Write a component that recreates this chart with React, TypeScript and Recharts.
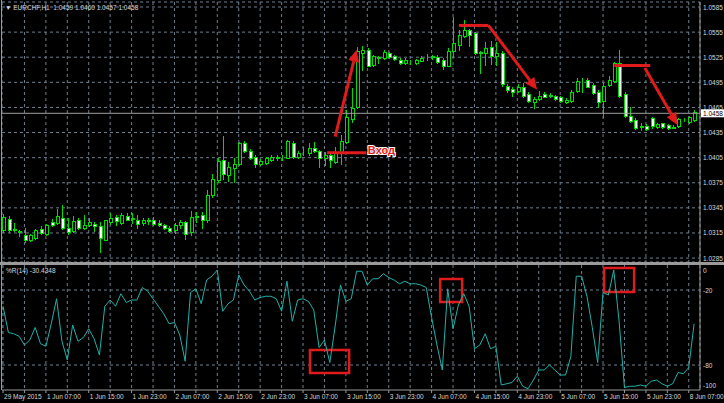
import React from "react";
import {
  Bar,
  CartesianGrid,
  ComposedChart,
  Line,
  ReferenceArea,
  ReferenceDot,
  ReferenceLine,
  XAxis,
  YAxis,
} from "recharts";

// EURCHF H1, bars 0..129 (29 May 23:00 -> 8 Jun 08:00)
const open = [
  1.0319, 1.0332, 1.032, 1.0316, 1.0312, 1.0307, 1.0309, 1.032, 1.0314, 1.0328,
  1.0327, 1.0333, 1.0321, 1.0317, 1.033, 1.0321, 1.0325, 1.0326, 1.0323, 1.0307,
  1.0328, 1.0334, 1.0327, 1.0335, 1.0332, 1.0331, 1.0327, 1.0331, 1.0331, 1.0327,
  1.0324, 1.0321, 1.0318, 1.0324, 1.0328, 1.0316, 1.0334, 1.0337, 1.033, 1.036,
  1.0378, 1.0402, 1.0384, 1.0393, 1.0397, 1.0422, 1.0413, 1.0406, 1.0397, 1.0399,
  1.0402, 1.0405, 1.0405, 1.0405, 1.0423, 1.0406, 1.0413, 1.041, 1.0417, 1.0413,
  1.0404, 1.0408, 1.04, 1.0411, 1.0424, 1.0451, 1.0465, 1.053, 1.0534, 1.0516,
  1.0525, 1.0524, 1.053, 1.0526, 1.0522, 1.0518, 1.0519, 1.0518, 1.0521, 1.0526,
  1.0526, 1.0525, 1.0522, 1.0515, 1.0533, 1.054, 1.055, 1.0557, 1.0554, 1.0531,
  1.053, 1.0537, 1.0526, 1.053, 1.0491, 1.0487, 1.0485, 1.049, 1.0481, 1.0471,
  1.0475, 1.0481, 1.048, 1.0479, 1.0477, 1.0471, 1.0473, 1.0485, 1.0497, 1.0498,
  1.0492, 1.0484, 1.0473, 1.0492, 1.0497, 1.0518, 1.0481, 1.0455, 1.045, 1.0443,
  1.0443, 1.0452, 1.0442, 1.0446, 1.0444, 1.0441, 1.0443, 1.0451, 1.0448, 1.045,
];
const high = [
  1.0338, 1.0335, 1.0327, 1.0319, 1.0321, 1.0314, 1.032, 1.0323, 1.0326, 1.0332,
  1.0344, 1.0348, 1.0333, 1.0335, 1.0333, 1.0337, 1.0333, 1.0328, 1.0328, 1.0331,
  1.0339, 1.0337, 1.0339, 1.0339, 1.0339, 1.0337, 1.0333, 1.0333, 1.0334, 1.033,
  1.0326, 1.0323, 1.0327, 1.033, 1.0329, 1.0341, 1.034, 1.034, 1.0366, 1.0386,
  1.0404, 1.0431, 1.04, 1.0405, 1.0424, 1.0425, 1.0415, 1.0408, 1.0403, 1.0406,
  1.0408, 1.0408, 1.0408, 1.0426, 1.0425, 1.0413, 1.0418, 1.0422, 1.0424, 1.0414,
  1.0412, 1.0412, 1.0418, 1.0432, 1.0462, 1.0488, 1.0537, 1.0538, 1.0536, 1.0528,
  1.0526, 1.0534, 1.0531, 1.0528, 1.0524, 1.0524, 1.0522, 1.0523, 1.0527, 1.0529,
  1.0528, 1.0528, 1.0524, 1.0536, 1.0573, 1.0558, 1.057, 1.0559, 1.0555, 1.0532,
  1.0543, 1.0544, 1.0543, 1.0532, 1.0493, 1.0489, 1.0493, 1.0494, 1.0483, 1.0478,
  1.0485, 1.0484, 1.0482, 1.048, 1.0479, 1.0476, 1.0486, 1.05, 1.05, 1.05,
  1.0494, 1.0486, 1.0494, 1.0502, 1.0519, 1.0534, 1.0483, 1.0465, 1.0452, 1.0447,
  1.0445, 1.0454, 1.0446, 1.0447, 1.0445, 1.0444, 1.0452, 1.0452, 1.0455, 1.0462,
];
const low = [
  1.0316, 1.0316, 1.0317, 1.0311, 1.0304, 1.0305, 1.0308, 1.0314, 1.0313, 1.0323,
  1.0326, 1.032, 1.0314, 1.0316, 1.032, 1.032, 1.0323, 1.0317, 1.0292, 1.0306,
  1.0326, 1.0324, 1.0326, 1.033, 1.0327, 1.0321, 1.0325, 1.0326, 1.0324, 1.0323,
  1.032, 1.0316, 1.0315, 1.0321, 1.0308, 1.0312, 1.0328, 1.0321, 1.0328, 1.0358,
  1.0376, 1.038, 1.0377, 1.0376, 1.0396, 1.0412, 1.0403, 1.0394, 1.0396, 1.0398,
  1.0401, 1.0402, 1.0402, 1.0404, 1.0405, 1.0405, 1.0408, 1.0408, 1.0412, 1.0394,
  1.0396, 1.0394, 1.0399, 1.0398, 1.0422, 1.0448, 1.0464, 1.051, 1.0514, 1.0514,
  1.0518, 1.0523, 1.0524, 1.0522, 1.0517, 1.0517, 1.0517, 1.0517, 1.052, 1.0522,
  1.0523, 1.0518, 1.0511, 1.0514, 1.0526, 1.0534, 1.0549, 1.0538, 1.0529, 1.0506,
  1.0516, 1.0517, 1.0516, 1.0491, 1.0484, 1.0479, 1.0483, 1.0478, 1.0472, 1.0464,
  1.0474, 1.0477, 1.0478, 1.0474, 1.0471, 1.047, 1.0472, 1.0484, 1.0484, 1.0489,
  1.0481, 1.0466, 1.0454, 1.0491, 1.0495, 1.0478, 1.0454, 1.0448, 1.0439, 1.0438,
  1.0438, 1.0441, 1.0441, 1.0441, 1.0439, 1.044, 1.0442, 1.0449, 1.0447, 1.0449,
];
const close = [
  1.0334, 1.0318, 1.0318, 1.0317, 1.0307, 1.0312, 1.0319, 1.0315, 1.0325, 1.0324,
  1.0335, 1.0321, 1.0316, 1.0329, 1.0321, 1.0325, 1.0328, 1.0323, 1.0309, 1.033,
  1.0333, 1.0329, 1.0336, 1.0331, 1.0333, 1.0326, 1.0331, 1.0329, 1.0326, 1.0324,
  1.0321, 1.0317, 1.0325, 1.0328, 1.0314, 1.0334, 1.0335, 1.0331, 1.036, 1.038,
  1.0401, 1.0385, 1.0394, 1.0397, 1.0422, 1.0413, 1.0404, 1.0397, 1.0401, 1.0404,
  1.0406, 1.0406, 1.0405, 1.0425, 1.0406, 1.0411, 1.0413, 1.0417, 1.0413, 1.0404,
  1.0408, 1.0402, 1.0411, 1.0425, 1.0454, 1.0464, 1.0532, 1.0534, 1.0515, 1.0526,
  1.0524, 1.0531, 1.0525, 1.0523, 1.0518, 1.0522, 1.0519, 1.0522, 1.0524, 1.0526,
  1.0525, 1.0519, 1.0515, 1.0533, 1.0542, 1.0552, 1.0558, 1.0552, 1.053, 1.053,
  1.0536, 1.0527, 1.053, 1.0493, 1.0486, 1.0483, 1.0489, 1.0479, 1.0473, 1.0475,
  1.0479, 1.0478, 1.0479, 1.0475, 1.0473, 1.0474, 1.0484, 1.0496, 1.0497, 1.049,
  1.0482, 1.0471, 1.0491, 1.0498, 1.0518, 1.0479, 1.0455, 1.0449, 1.0441, 1.0442,
  1.0439, 1.0443, 1.0445, 1.0442, 1.044, 1.0442, 1.0451, 1.0451, 1.0454, 1.046,
];
// Williams %R(14)
const wpr = [
  -33, -54, -55, -57, -64, -60, -50, -63, -65, -47,
  -27, -61, -76, -48, -61, -58, -51, -59, -72, -33,
  -28, -33, -23, -30, -28, -28, -18, -21, -27, -33,
  -39, -47, -46, -56, -77, -22, -19, -31, -12, -9,
  -4, -37, -31, -28, -8, -16, -21, -28, -26, -25,
  -25, -27, -37, -13, -45, -28, -27, -29, -36, -66,
  -60, -78, -49, -16, -29, -27, -5, -5, -16, -11,
  -11, -7, -10, -12, -15, -13, -15, -15, -16, -18,
  -42, -64, -84, -19, -51, -32, -23, -33, -67, -64,
  -55, -67, -65, -96, -95, -94, -89, -97, -99, -92,
  -84, -84, -80, -84, -88, -88, -73, -9, -9, -25,
  -50, -78, -22, -24, -4, -45, -98, -97, -97, -96,
  -97, -93, -92, -95, -97, -95, -86, -87, -82, -47,
];

const gridTicks = [
  0, 4, 8, 12, 16, 20, 24, 28, 32, 36, 40, 44, 48, 52, 56, 60, 64,
  68, 72, 76, 80, 84, 88, 92, 96, 100, 104, 108, 112, 116, 120, 124, 128,
];
const labelTicks = [0, 8, 16, 24, 32, 40, 48, 56, 64, 72, 80, 88, 96, 104, 112, 120, 128];
const timeLabels = [
  "29 May 2015", "1 Jun 07:00", "1 Jun 15:00", "1 Jun 23:00", "2 Jun 07:00",
  "2 Jun 15:00", "2 Jun 23:00", "3 Jun 07:00", "3 Jun 15:00", "3 Jun 23:00",
  "4 Jun 07:00", "4 Jun 15:00", "4 Jun 23:00", "5 Jun 07:00", "5 Jun 15:00",
  "5 Jun 23:00", "8 Jun 07:00",
];
const priceTicks = [
  1.0285, 1.0315, 1.0345, 1.0375, 1.0405, 1.0435, 1.0465, 1.0495, 1.0525, 1.0555, 1.0585,
];
const wprTicks = [0, -20, -80, -100];

const symbol = "EURCHF,H1";
const lastOhlc = [1.0459, 1.046, 1.0457, 1.0458];
const bid = 1.0458;
const wprLast = -30.4348;

// annotations, in bar index / price coordinates
const entryLevel = { x1: 60.5, x2: 67.8, y: 1.0411 };
const entryText = { x: 68.1, y: 1.0414 };
const upArrow = { x1: 62, y1: 1.043, x2: 66, y2: 1.0534 };
const top1 = { x1: 85.1, x2: 90.6, y: 1.0563 };
const downArrow1 = { x1: 90.6, y1: 1.0563, x2: 99.7, y2: 1.0486 };
const top2 = { x1: 114.1, x2: 120.8, y: 1.0515 };
const downArrow2 = { x1: 119.8, y1: 1.0512, x2: 125.9, y2: 1.0444 };
const wprBoxes = [
  { x1: 57.3, x2: 64.6, y1: -68, y2: -86.4 },
  { x1: 81.6, x2: 85.7, y1: -11.2, y2: -29.6 },
  { x1: 112.2, x2: 117.8, y1: -2.4, y2: -21.6 },
];

const data = open.map((o, i) => ({
  i,
  open: o,
  high: high[i],
  low: low[i],
  close: close[i],
  wpr: wpr[i],
}));

const GREEN = "#00dc00";
const RED = "#e01b1b";
const GRID = "#6f7f8f";
const FRAME = "#9a9a9a";
const TXT = "#d8d8d8";
const FONT = "'Liberation Sans', Arial, sans-serif";
const X_DOMAIN: [number, number] = [-0.19, 130.1];

function Candle(props: any) {
  const { x, y, width, height, payload } = props;
  if (x == null || y == null || !payload) return null;
  const { open: o, close: c, high: h, low: l } = payload;
  const top = Math.min(y, y + height);
  const hh = Math.abs(height);
  const span = h - l || 1;
  const toY = (v: number) => top + ((h - v) / span) * hh;
  const cx = Math.round(x + width / 2);
  const bTop = Math.round(toY(Math.max(o, c)));
  const bBot = Math.round(toY(Math.min(o, c)));
  const bull = c >= o;
  return (
    <g>
      <line x1={cx + 0.5} x2={cx + 0.5} y1={Math.round(top)} y2={Math.round(top + hh) + 1} stroke={GREEN} />
      <rect
        x={cx - 0.5}
        y={bTop + 0.5}
        width={3}
        height={Math.max(bBot - bTop, 0)}
        fill={bull ? "#000" : "#fff"}
        stroke={GREEN}
      />
    </g>
  );
}

function Arrow(props: any) {
  const { x1, y1, x2, y2 } = props;
  if (x1 == null) return null;
  const a = Math.atan2(y2 - y1, x2 - x1);
  const len = 12;
  const half = 5.5;
  const bx = x2 - len * Math.cos(a);
  const by = y2 - len * Math.sin(a);
  const pts = [
    `${x2},${y2}`,
    `${bx - half * Math.sin(a)},${by + half * Math.cos(a)}`,
    `${bx + half * Math.sin(a)},${by - half * Math.cos(a)}`,
  ].join(" ");
  return (
    <g>
      <line x1={x1} y1={y1} x2={bx} y2={by} stroke={RED} strokeWidth={3} />
      <polygon points={pts} fill={RED} />
    </g>
  );
}

function PriceTick(props: any) {
  const { x, y, payload } = props;
  return (
    <text x={x} y={y + 2.5} fontSize={6.5} fill={TXT} fontFamily={FONT} textAnchor="start">
      {Number(payload.value).toFixed(4)}
    </text>
  );
}

function WprTick(props: any) {
  const { x, y, payload } = props;
  const v = payload.value;
  const dy = v === 0 ? 5 : v === -100 ? -5 : 0;
  return (
    <text x={x} y={y + dy + 2.5} fontSize={6.5} fill={TXT} fontFamily={FONT} textAnchor="start">
      {v}
    </text>
  );
}

function TimeTick(props: any) {
  const { x, y, payload } = props;
  const k = labelTicks.indexOf(payload.value);
  if (k < 0) return null;
  return (
    <text x={x + 1} y={y + 4} fontSize={6.5} fill={TXT} fontFamily={FONT} textAnchor="start">
      {timeLabels[k]}
    </text>
  );
}

function BidLabel(props: any) {
  const vb = props.viewBox;
  if (!vb) return null;
  const x = vb.x + vb.width;
  return (
    <g>
      <rect x={x + 1} y={vb.y - 4} width={23} height={8} fill="#fff" />
      <text x={x + 3} y={vb.y + 2.5} fontSize={6.5} fill="#000" fontFamily={FONT}>
        {bid.toFixed(4)}
      </text>
    </g>
  );
}

function PriceChart() {
  return (
    <ComposedChart width={724} height={262} data={data} margin={{ top: 2, right: 0, bottom: 0, left: 2 }}>
      <CartesianGrid stroke={GRID} strokeDasharray="3 3" />
      <XAxis dataKey="i" type="number" domain={X_DOMAIN} ticks={gridTicks} hide allowDataOverflow />
      <YAxis
        orientation="right"
        width={24}
        domain={[1.02803, 1.0591]}
        ticks={priceTicks}
        interval={0}
        allowDataOverflow
        tickLine={false}
        tickSize={0}
        tickMargin={3}
        axisLine={{ stroke: FRAME }}
        tick={<PriceTick />}
      />
      <ReferenceLine y={bid} stroke="#a0a0a0" label={<BidLabel />} />
      <Bar
        dataKey={(d: any) => [d.low, d.high]}
        barSize={4}
        isAnimationActive={false}
        shape={(p: any) => <Candle {...p} />}
      />
      <ReferenceLine
        segment={[{ x: entryLevel.x1, y: entryLevel.y }, { x: entryLevel.x2, y: entryLevel.y }]}
        stroke={RED}
        strokeWidth={3}
      />
      <ReferenceLine
        segment={[{ x: top1.x1, y: top1.y }, { x: top1.x2, y: top1.y }]}
        stroke={RED}
        strokeWidth={3}
      />
      <ReferenceLine
        segment={[{ x: top2.x1, y: top2.y }, { x: top2.x2, y: top2.y }]}
        stroke={RED}
        strokeWidth={3}
      />
      {[upArrow, downArrow1, downArrow2].map((a, k) => (
        <ReferenceLine
          key={k}
          segment={[{ x: a.x1, y: a.y1 }, { x: a.x2, y: a.y2 }]}
          shape={(p: any) => <Arrow {...p} />}
        />
      ))}
      <ReferenceDot
        x={entryText.x}
        y={entryText.y}
        r={0}
        shape={(p: any) => (
          <text
            x={p.cx}
            y={p.cy + 4}
            fontSize={11}
            fontWeight="bold"
            fontFamily={FONT}
            fill={RED}
            stroke="#fff"
            strokeWidth={2}
            paintOrder="stroke"
          >
            Вход
          </text>
        )}
      />
    </ComposedChart>
  );
}

function WprChart() {
  return (
    <ComposedChart width={724} height={138} data={data} margin={{ top: 0, right: 0, bottom: 0, left: 2 }}>
      <CartesianGrid stroke={GRID} strokeDasharray="3 3" horizontalValues={[-20, -80]} />
      <XAxis
        dataKey="i"
        type="number"
        domain={X_DOMAIN}
        ticks={gridTicks}
        interval={0}
        allowDataOverflow
        height={13}
        tickSize={3}
        tickMargin={2}
        tickLine={{ stroke: FRAME }}
        axisLine={{ stroke: FRAME }}
        tick={<TimeTick />}
      />
      <YAxis
        orientation="right"
        width={24}
        domain={[-100, 0]}
        ticks={wprTicks}
        interval={0}
        allowDataOverflow
        tickLine={false}
        tickSize={0}
        tickMargin={3}
        axisLine={{ stroke: FRAME }}
        tick={<WprTick />}
      />
      <Line
        dataKey="wpr"
        type="linear"
        stroke="#20b2aa"
        strokeWidth={1}
        dot={false}
        isAnimationActive={false}
      />
      {wprBoxes.map((b, k) => (
        <ReferenceArea
          key={k}
          x1={b.x1}
          x2={b.x2}
          y1={b.y1}
          y2={b.y2}
          fill="none"
          fillOpacity={0}
          stroke={RED}
          strokeWidth={2.5}
        />
      ))}
    </ComposedChart>
  );
}

export default function App() {
  return (
    <div
      style={{
        position: "absolute",
        left: 0,
        top: 0,
        width: 724,
        height: 403,
        background: "#000",
        overflow: "hidden",
        fontFamily: FONT,
      }}
    >
      <PriceChart />
      <div style={{ height: 3, background: FRAME }} />
      <WprChart />
      <div style={{ position: "absolute", left: 1, top: 0, width: 1, height: 390, background: FRAME }} />
      <div
        style={{
          position: "absolute",
          left: 5,
          top: 4,
          fontSize: 6.5,
          color: TXT,
          whiteSpace: "pre",
          lineHeight: "8px",
        }}
      >
        {"▼ " + symbol + "  " + lastOhlc.map((v) => v.toFixed(4)).join(" ")}
      </div>
      <div
        style={{
          position: "absolute",
          left: 6,
          top: 267,
          fontSize: 6.5,
          color: TXT,
          whiteSpace: "pre",
          lineHeight: "8px",
        }}
      >
        {"%R(14) " + wprLast.toFixed(4)}
      </div>
    </div>
  );
}
